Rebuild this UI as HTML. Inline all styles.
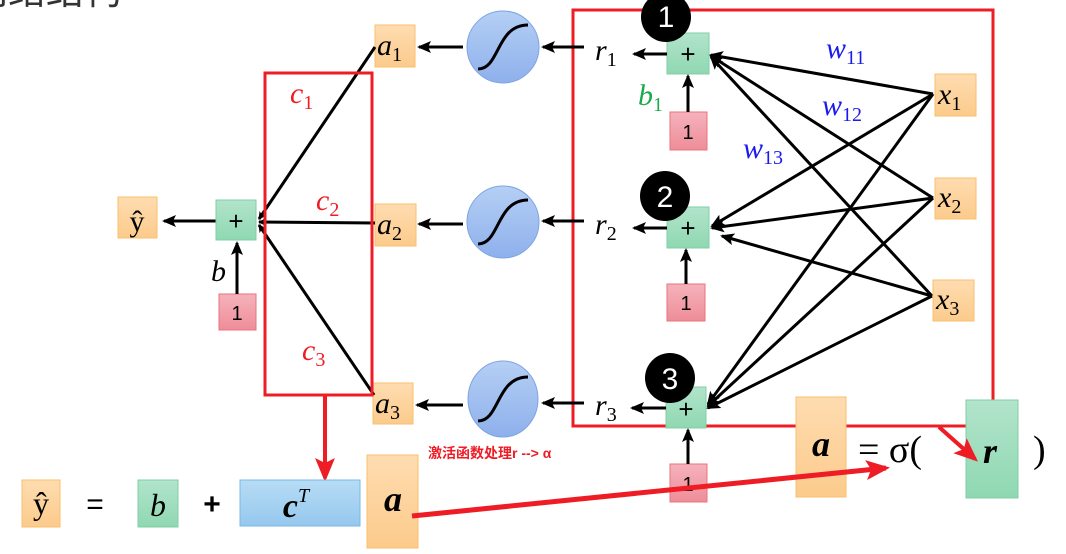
<!DOCTYPE html>
<html><head><meta charset="utf-8"><style>
body{margin:0;background:#fff}
svg text{font-family:"Liberation Serif","DejaVu Serif",serif}
</style></head><body>
<svg width="1066" height="549" viewBox="0 0 1066 549" xmlns="http://www.w3.org/2000/svg">
<defs>
<marker id="ah" markerWidth="8" markerHeight="8" refX="7" refY="4" orient="auto" markerUnits="userSpaceOnUse" viewBox="0 0 8 8"><path d="M0,0 L8,4 L0,8 L2,4 z" fill="#000"/></marker>
<marker id="ah2" markerWidth="14" markerHeight="12" refX="12" refY="6" orient="auto" markerUnits="userSpaceOnUse"><path d="M0,0 L14,6 L0,12 L3,6 z" fill="#000"/></marker>
<marker id="rh" markerWidth="24" markerHeight="20" refX="20" refY="10" orient="auto" markerUnits="userSpaceOnUse"><path d="M0,0 L24,10 L0,20 L5,10 z" fill="#ee1c25"/></marker>
<linearGradient id="og" x1="0" y1="0" x2="0" y2="1"><stop offset="0" stop-color="#fedcb0"/><stop offset="1" stop-color="#fccb8c"/></linearGradient>
<linearGradient id="gg" x1="0" y1="0" x2="0" y2="1"><stop offset="0" stop-color="#b2e4cb"/><stop offset="1" stop-color="#8fd8b2"/></linearGradient>
<linearGradient id="pg" x1="0" y1="0" x2="0" y2="1"><stop offset="0" stop-color="#f5b3bb"/><stop offset="1" stop-color="#ee8d99"/></linearGradient>
<linearGradient id="cg" x1="0" y1="0" x2="0" y2="1"><stop offset="0" stop-color="#b5cff4"/><stop offset="1" stop-color="#8eb0ec"/></linearGradient>
<linearGradient id="bg" x1="0" y1="0" x2="0" y2="1"><stop offset="0" stop-color="#b7dcf5"/><stop offset="1" stop-color="#95c8ee"/></linearGradient>
</defs>
<text x="-30" y="4" font-size="38" fill="#333" style="font-family:'Liberation Sans','Noto Sans CJK SC',sans-serif">网络结构</text>

<rect x="573" y="10" width="420" height="416" fill="none" stroke="#ee1c25" stroke-width="3"/>

<g stroke="#000" stroke-width="3" fill="none" marker-end="url(#ah2)">
<line x1="933" y1="94" x2="711" y2="55"/>
<line x1="933" y1="94" x2="712" y2="226"/>
<line x1="933" y1="94" x2="708" y2="404"/>
<line x1="933" y1="198" x2="711" y2="56"/>
<line x1="933" y1="198" x2="712" y2="228"/>
<line x1="933" y1="198" x2="708" y2="406"/>
<line x1="932" y1="296" x2="711" y2="57"/>
<line x1="932" y1="296" x2="722" y2="236"/>
<line x1="932" y1="296" x2="708" y2="408"/>
</g>

<rect x="667" y="33" width="42" height="41" fill="url(#gg)" stroke="#7fcfa4"/>
<rect x="667" y="207" width="42" height="41" fill="url(#gg)" stroke="#7fcfa4"/>
<rect x="666" y="387" width="40" height="41" fill="url(#gg)" stroke="#7fcfa4"/>
<circle cx="666" cy="17" r="25" fill="#000"/>
<circle cx="665" cy="196" r="25" fill="#000"/>
<circle cx="670" cy="378" r="25" fill="#000"/>
<g font-size="30" fill="#fff" text-anchor="middle">
<text x="666" y="27" style="font-family:'Liberation Sans',sans-serif">1</text>
<text x="665" y="207" style="font-family:'Liberation Sans',sans-serif">2</text>
<text x="670" y="389" style="font-family:'Liberation Sans',sans-serif">3</text>
</g>
<g font-size="26" fill="#000" text-anchor="middle">
<text x="688" y="63" style="font-family:'Liberation Sans',sans-serif">+</text>
<text x="688" y="237" style="font-family:'Liberation Sans',sans-serif">+</text>
<text x="686" y="418" style="font-family:'Liberation Sans',sans-serif">+</text>
</g>

<g fill="url(#pg)" stroke="#e9737f">
<rect x="670" y="112" width="37" height="38"/>
<rect x="667" y="284" width="38" height="37"/>
<rect x="670" y="464" width="37" height="38"/>
<rect x="219" y="294" width="37" height="36"/>
</g>
<g font-size="20" fill="#000" text-anchor="middle">
<text x="688" y="139" style="font-family:'Liberation Sans',sans-serif">1</text>
<text x="686" y="310" style="font-family:'Liberation Sans',sans-serif">1</text>
<text x="688" y="491" style="font-family:'Liberation Sans',sans-serif">1</text>
<text x="237" y="320" style="font-family:'Liberation Sans',sans-serif">1</text>
</g>

<g stroke="#000" stroke-width="3" marker-end="url(#ah2)">
<line x1="688" y1="112" x2="688" y2="76"/>
<line x1="686" y1="284" x2="686" y2="250"/>
<line x1="688" y1="464" x2="688" y2="430"/>
<line x1="237" y1="294" x2="237" y2="243"/>
<line x1="667" y1="54" x2="634" y2="54"/>
<line x1="667" y1="228" x2="634" y2="228"/>
<line x1="666" y1="408" x2="632" y2="408"/>
<line x1="584" y1="47" x2="543" y2="47"/>
<line x1="584" y1="221" x2="543" y2="221"/>
<line x1="584" y1="403" x2="543" y2="403"/>
<line x1="463" y1="47" x2="419" y2="47"/>
<line x1="463" y1="224" x2="419" y2="224"/>
<line x1="463" y1="405" x2="417" y2="405"/>
<line x1="216" y1="221" x2="164" y2="221"/>
</g>

<g fill="url(#og)" stroke="#fbbf6e">
<rect x="935" y="74" width="41" height="42"/>
<rect x="935" y="178" width="41" height="41"/>
<rect x="933" y="280" width="41" height="41"/>
<rect x="375" y="25" width="40" height="42"/>
<rect x="375" y="204" width="41" height="42"/>
<rect x="373" y="383" width="40" height="41"/>
<rect x="118" y="197" width="39" height="41"/>
</g>
<g font-size="30" font-style="italic" fill="#000">
<text x="938" y="104">x<tspan font-size="20" font-style="normal" dy="6">1</tspan></text>
<text x="938" y="207">x<tspan font-size="20" font-style="normal" dy="6">2</tspan></text>
<text x="936" y="309">x<tspan font-size="20" font-style="normal" dy="6">3</tspan></text>
<text x="377" y="55">a<tspan font-size="20" font-style="normal" dy="6">1</tspan></text>
<text x="377" y="234">a<tspan font-size="20" font-style="normal" dy="6">2</tspan></text>
<text x="375" y="413">a<tspan font-size="20" font-style="normal" dy="6">3</tspan></text>
<text x="595" y="60">r<tspan font-size="20" font-style="normal" dy="6">1</tspan></text>
<text x="595" y="234">r<tspan font-size="20" font-style="normal" dy="6">2</tspan></text>
<text x="595" y="415">r<tspan font-size="20" font-style="normal" dy="6">3</tspan></text>
<text x="211" y="281">b</text>
<text x="638" y="105" fill="#1aaa4a">b<tspan font-size="20" font-style="normal" dy="6">1</tspan></text>
<text x="826" y="58" fill="#1a1aee">w<tspan font-size="20" font-style="normal" dy="6">11</tspan></text>
<text x="822" y="115" fill="#1a1aee">w<tspan font-size="20" font-style="normal" dy="6">12</tspan></text>
<text x="743" y="158" fill="#1a1aee">w<tspan font-size="20" font-style="normal" dy="6">13</tspan></text>
<text x="290" y="103" fill="#ee1c25">c<tspan font-size="20" font-style="normal" dy="6">1</tspan></text>
<text x="316" y="210" fill="#ee1c25">c<tspan font-size="20" font-style="normal" dy="6">2</tspan></text>
<text x="302" y="360" fill="#ee1c25">c<tspan font-size="20" font-style="normal" dy="6">3</tspan></text>
</g>
<text x="137" y="231" font-size="30" text-anchor="middle">ŷ</text>

<g fill="url(#cg)" stroke="#7fa4e4">
<circle cx="503" cy="47" r="36"/>
<circle cx="503" cy="222" r="36"/>
<ellipse cx="503" cy="399" rx="35" ry="38"/>
</g>
<g stroke="#000" stroke-width="3" fill="none">
<path d="M478,69 C500,69 496,25 528,25"/>
<path d="M478,244 C500,244 496,200 528,200"/>
<path d="M478,421 C500,421 496,377 528,377"/>
</g>

<rect x="216" y="200" width="40" height="40" fill="url(#gg)" stroke="#7fcfa4"/>
<text x="236" y="230" font-size="26" text-anchor="middle" style="font-family:'Liberation Sans',sans-serif">+</text>
<g stroke="#000" stroke-width="3" marker-end="url(#ah)">
<line x1="375" y1="47" x2="259" y2="219"/>
<line x1="375" y1="223" x2="259" y2="222"/>
<line x1="374" y1="395" x2="259" y2="225"/>
</g>
<rect x="265" y="73" width="107" height="322" fill="none" stroke="#ee1c25" stroke-width="3"/>

<line x1="325" y1="396" x2="325" y2="478" stroke="#ee1c25" stroke-width="4" marker-end="url(#rh)"/>
<text x="428" y="458" font-size="14" font-weight="bold" fill="#ee1c25" style="font-family:'Liberation Sans','Noto Sans CJK SC',sans-serif">激活函数处理r --&gt; α</text>

<rect x="22" y="480" width="38" height="47" fill="url(#og)" stroke="#fbbf6e"/>
<text x="41" y="514" font-size="32" text-anchor="middle">ŷ</text>
<text x="95" y="514" font-size="30" text-anchor="middle" style="font-family:'Liberation Sans',sans-serif">=</text>
<rect x="138" y="480" width="40" height="47" fill="url(#gg)" stroke="#7fcfa4"/>
<text x="158" y="516" font-size="32" font-style="italic" text-anchor="middle">b</text>
<text x="212" y="514" font-size="30" font-weight="bold" text-anchor="middle" style="font-family:'Liberation Sans',sans-serif">+</text>
<rect x="240" y="480" width="120" height="46" fill="url(#bg)" stroke="#7ab8e6"/>
<text x="296" y="517" font-size="34" font-style="italic" font-weight="bold" text-anchor="middle">c<tspan font-size="20" font-weight="normal" dy="-15">T</tspan></text>
<rect x="367" y="455" width="51" height="93" fill="url(#og)" stroke="#fbbf6e"/>
<text x="393" y="511" font-size="36" font-style="italic" font-weight="bold" text-anchor="middle">a</text>

<rect x="796" y="397" width="50" height="100" fill="url(#og)" stroke="#fbbf6e"/>
<text x="821" y="456" font-size="36" font-style="italic" font-weight="bold" text-anchor="middle">a</text>
<text x="858" y="462" font-size="38">= σ(</text>
<rect x="966" y="400" width="52" height="98" fill="url(#gg)" stroke="#7fcfa4"/>
<text x="990" y="463" font-size="36" font-style="italic" font-weight="bold" text-anchor="middle">r</text>
<text x="1033" y="462" font-size="38">)</text>
<line x1="412" y1="516" x2="886" y2="468" stroke="#ee1c25" stroke-width="5" marker-end="url(#rh)"/>
<line x1="939" y1="427" x2="975" y2="459" stroke="#ee1c25" stroke-width="4" marker-end="url(#rh)"/>
</svg>
</body></html>
